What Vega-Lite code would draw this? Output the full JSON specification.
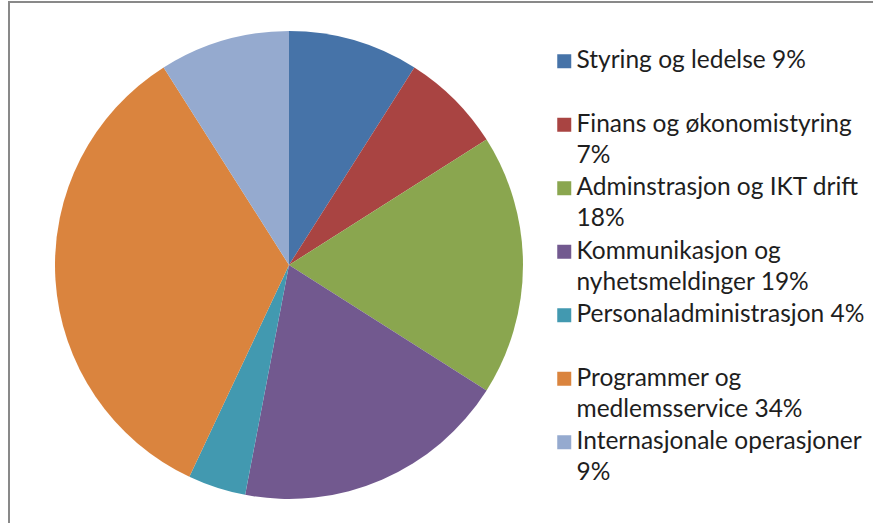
{
  "$schema": "https://vega.github.io/schema/vega-lite/v6.json",
  "width": 866,
  "height": 523,
  "autosize": {"type": "none"},
  "padding": {"left": 9, "top": 2, "right": -2, "bottom": -2},
  "background": "white",
  "view": {"stroke": "#898989", "strokeWidth": 2},
  "config": {
    "view": {"stroke": "#898989", "strokeWidth": 2},
    "style": {"guide-label": {"lineHeight": 31}}
  },
  "data": {
    "values": [
      {"idx": 1, "category": "Styring og ledelse 9%\n ", "share": 9},
      {"idx": 2, "category": "Finans og økonomistyring\n7%", "share": 7},
      {"idx": 3, "category": "Adminstrasjon og IKT drift\n18%", "share": 18},
      {"idx": 4, "category": "Kommunikasjon og\nnyhetsmeldinger 19%", "share": 19},
      {"idx": 5, "category": "Personaladministrasjon 4%\n ", "share": 4},
      {"idx": 6, "category": "Programmer og\nmedlemsservice 34%", "share": 34},
      {"idx": 7, "category": "Internasjonale operasjoner\n9%", "share": 9}
    ]
  },
  "mark": {"type": "arc", "outerRadius": 234, "x": 280, "y": 263},
  "encoding": {
    "theta": {"field": "share", "type": "quantitative", "stack": true},
    "order": {"field": "idx", "type": "quantitative"},
    "color": {
      "field": "category",
      "type": "nominal",
      "scale": {
        "domain": [
          "Styring og ledelse 9%\n ",
          "Finans og økonomistyring\n7%",
          "Adminstrasjon og IKT drift\n18%",
          "Kommunikasjon og\nnyhetsmeldinger 19%",
          "Personaladministrasjon 4%\n ",
          "Programmer og\nmedlemsservice 34%",
          "Internasjonale operasjoner\n9%"
        ],
        "range": ["#4673A8", "#A94442", "#8AA64F", "#72598F", "#4299B0", "#DA843E", "#95AACF"]
      },
      "legend": {
        "orient": "none",
        "legendX": 543,
        "legendY": 47,
        "title": null,
        "padding": 0,
        "symbolType": "square",
        "symbolSize": 196,
        "symbolStrokeWidth": 0,
        "symbolOpacity": 1,
        "labelFont": "Lato",
        "labelFontSize": 24.5,
        "labelColor": "#1e1e1e",
        "labelLimit": 0,
        "labelOffset": 0,
        "labelExpr": "split(datum.label, '\\n')",
        "rowPadding": 7.5
      }
    }
  }
}
